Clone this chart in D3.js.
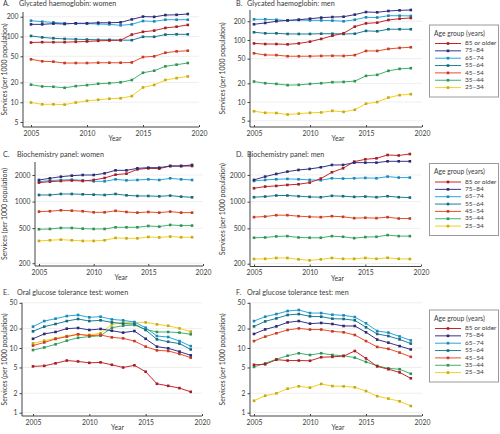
<!DOCTYPE html>
<html><head><meta charset="utf-8">
<script src="https://cdn.jsdelivr.net/npm/d3@7"></script>
<style>
html,body{margin:0;padding:0;background:#fff;}
svg{display:block;font-family:Lato,"Open Sans",sans-serif;}
</style></head>
<body><svg id="c" width="500" height="434"></svg>
<script>
const years = [2005,2006,2007,2008,2009,2010,2011,2012,2013,2014,2015,2016,2017,2018,2019];
const ageGroups = ["85 or older","75–84","65–74","55–64","45–54","35–44","25–34"];
const xTicks = [2005,2010,2015,2020];
const ticksGhb = [5,10,20,50,100,200];
const ticksBio = [200,500,1000,2000];
const ticksOgtt = [1,2,5,10,20,50];

// series in legend order: 85+, 75–84, 65–74, 55–64, 45–54, 35–44, 25–34
const ghbWomen = [
 [81,82,82,82,83,84,86,87,88,107,118,123,135,141,150],
 [153,153,157,155,159,159,162,162,164,182,201,199,212,214,220],
 [174,168,164,159,157,157,155,153,148,153,172,170,180,180,180],
 [102,97,94,92,91,90,89,89,88,88,99,99,107,108,108],
 [45,42,41.4,39.5,39.5,39.5,39.9,39.9,39.9,40.3,48.7,49.9,56.7,59.4,60.8],
 [18.5,17.4,17.2,16.6,17.6,18.2,19.1,19.5,20.1,21.8,28.1,30.2,35.2,37.3,39.5],
 [9.9,9.3,9.3,9.2,9.9,10.5,10.9,11.3,11.5,12.4,16.8,18.3,21.8,23.3,24.7]
];
const ghbMen = [
 [88,86,86,85,88,94,104,117,128,164,185,190,210,220,226],
 [179,188,200,207,212,220,229,234,237,256,282,279,293,300,304],
 [215,215,212,205,210,207,207,205,200,212,232,230,246,246,244],
 [133,128,128,125,125,125,126,126,125,126,140,138,149,149,149],
 [61,57.4,57,54.7,54.7,54.7,55.3,55.6,55.3,57,66.6,66.6,71.8,74.5,76.3],
 [21.4,20.1,19.6,18.7,18.9,19.6,20.1,20.9,21.1,21.7,26.4,27.4,31.8,34.2,35.1],
 [7.1,6.7,6.65,6.3,6.5,6.7,6.8,7.2,6.95,7.5,9.4,10.0,11.8,12.9,13.4]
];
const bioWomen = [
 [1640,1680,1710,1730,1710,1756,1850,2017,2070,2318,2380,2360,2528,2528,2528],
 [1756,1834,1914,1966,2000,2000,2088,2259,2259,2380,2422,2422,2528,2528,2600],
 [1680,1730,1756,1770,1740,1696,1696,1786,1740,1756,1786,1756,1834,1786,1756],
 [1187,1187,1219,1219,1208,1197,1187,1219,1177,1157,1157,1146,1167,1137,1117],
 [769,777,796,788,777,755,755,785,762,749,762,749,769,749,749],
 [485,489,502,502,493,489,489,511,511,511,529,520,543,534,534],
 [358,364,370,364,358,358,364,387,383,383,397,392,401,394,394]
];
const bioMen = [
 [1416,1479,1504,1544,1570,1640,1818,2144,2376,2824,3000,3077,3356,3315,3440],
 [1758,1916,2052,2180,2276,2336,2438,2591,2591,2752,2752,2752,2848,2848,2848],
 [1712,1758,1788,1804,1788,1758,1742,1835,1820,1835,1851,1835,1916,1867,1867],
 [1122,1142,1173,1173,1152,1132,1122,1163,1152,1132,1142,1122,1152,1122,1112],
 [669,680,704,704,686,675,669,686,675,652,658,652,669,646,646],
 [392,395,406,409,395,392,392,409,402,388,399,402,420,409,409],
 [226,227,232,232,224,218,224,232,227,227,232,227,233,227,226]
];
const ogttWomen = [
 [5.2,5.3,5.8,6.4,6.2,5.9,6.0,5.5,5.0,5.4,4.3,2.8,2.6,2.4,2.1],
 [13.9,16.5,17.7,19.9,20.4,19.0,19.7,18.5,17.3,18.3,13.9,10.5,9.9,8.8,7.7],
 [21.4,26.1,28.4,31.2,32.4,29.8,30.5,27.7,26.8,25.2,20.6,15.3,14.8,12.8,10.7],
 [18.1,21.4,23.5,26.1,28.1,26.1,26.8,24.9,23.8,23.5,19.0,13.6,12.5,11.7,9.5],
 [10.9,12.2,13.8,15.0,16.3,15.5,15.9,14.6,14.1,12.8,10.5,9.2,9.0,8.1,7.1],
 [9.3,10.2,11.4,13.0,14.4,15.0,15.5,20.6,22.1,22.7,19.4,17.7,17.7,17.3,16.3],
 [11.8,13.0,14.1,15.3,16.3,15.9,16.9,23.2,24.9,24.9,24.9,23.2,22.1,20.1,17.9]
];
const ogttMen = [
 [5.5,5.6,6.6,6.4,6.4,6.35,7.2,7.3,7.5,9.0,6.9,5.2,4.7,4.2,3.4],
 [16.5,19.4,21.6,24.9,26.1,23.8,24.4,23.5,21.9,21.9,17.5,13.5,12.1,10.7,9.5],
 [26.1,30.5,33.5,37.3,38.7,34.7,34.7,32.7,32.0,30.1,24.1,18.3,17.3,15.1,13.1],
 [21.6,25.8,28.7,32.4,33.5,30.9,30.5,28.4,28.1,26.8,20.9,16.5,15.3,13.6,11.7],
 [12.8,15.0,16.9,19.0,20.1,19.3,19.3,18.1,17.5,15.9,12.8,10.4,9.7,8.5,7.3],
 [5.1,5.8,6.7,7.6,8.3,7.8,8.3,7.8,7.6,7.1,6.1,5.3,4.85,4.7,4.0],
 [1.53,1.83,1.99,2.35,2.56,2.44,2.78,2.58,2.56,2.47,2.16,1.8,1.65,1.5,1.27]
];

const colors = ["#c8262c","#35348a","#27a7de","#1b8199","#ee4b2b","#40b36b","#f4d11c"];
const drawOrder = [6,5,4,3,2,0,1];

const panels = [
 {letter:"A.", title:"Glycated haemoglobin: women", data:ghbWomen, ticks:ticksGhb,
  axisX:23, x0:31, x1:199, yDom:[4.2,236], yRng:[127,12], titleY:6, lx:3, tx:19, ytX:5, legend:null},
 {letter:"B.", title:"Glycated haemoglobin: men", data:ghbMen, ticks:ticksGhb,
  axisX:250, x0:254, x1:422, yDom:[3.96,304], yRng:[127,10], titleY:6, lx:236, tx:247, ytX:223, legend:25},
 {letter:"C.", title:"Biochemistry panel: women", data:bioWomen, ticks:ticksBio,
  axisX:35, x0:39, x1:203, yDom:[186,2808], yRng:[266,162], titleY:156.5, lx:3, tx:17, ytX:5, legend:null},
 {letter:"D.", title:"Biochemistry panel: men", data:bioMen, ticks:ticksBio,
  axisX:250, x0:254, x1:421, yDom:[186,3626], yRng:[266.5,152], titleY:156.5, lx:236, tx:247, ytX:223, legend:163.5},
 {letter:"E.", title:"Oral glucose tolerance test: women", data:ogttWomen, ticks:ticksOgtt,
  axisX:22, x0:33, x1:202, yDom:[0.889,50], yRng:[416,302.8], titleY:295, lx:3, tx:17, ytX:5, legend:null},
 {letter:"F.", title:"Oral glucose tolerance test: men", data:ogttMen, ticks:ticksOgtt,
  axisX:250, x0:254, x1:422, yDom:[0.889,50], yRng:[416,302.8], titleY:295, lx:236, tx:247, ytX:223, legend:310}
];

const svg = d3.select("#c");
const axisCol = "#444", textCol = "#3a3a3a";

panels.forEach(p => {
  const g = svg.append("g");
  const x = d3.scaleLinear().domain([2005,2020]).range([p.x0,p.x1]);
  const y = d3.scaleLog().domain(p.yDom).range(p.yRng);
  const yb = p.yRng[0], yt = p.yRng[1];

  g.append("text").attr("x",p.lx).attr("y",p.titleY).attr("font-size",7.2).attr("fill",textCol).text(p.letter);
  g.append("text").attr("x",p.tx).attr("y",p.titleY).attr("font-size",7.2).attr("fill",textCol).text(p.title);

  g.selectAll(".grid").data(p.ticks).join("line")
    .attr("x1",p.axisX).attr("x2",p.x1)
    .attr("y1",d=>y(d)).attr("y2",d=>y(d))
    .attr("stroke","#ebebeb").attr("stroke-width",0.8);

  const yAxis = d3.axisLeft(y).tickValues(p.ticks).tickFormat(d3.format("d")).tickSize(2.5).tickPadding(2);
  const ya = g.append("g").attr("transform",`translate(${p.axisX},0)`).call(yAxis);
  ya.select(".domain").remove();
  ya.append("line").attr("x1",0).attr("x2",0).attr("y1",yt).attr("y2",yb).attr("stroke",axisCol);
  ya.selectAll(".tick line").attr("stroke",axisCol);
  ya.selectAll(".tick text").attr("font-size",6.8).attr("fill",textCol).attr("font-family","Lato");

  const xAxis = d3.axisBottom(x).tickValues(xTicks).tickFormat(d3.format("d")).tickSize(-2).tickPadding(4);
  const xa = g.append("g").attr("transform",`translate(0,${yb})`).call(xAxis);
  xa.select(".domain").remove();
  xa.append("line").attr("x1",p.axisX).attr("x2",p.x1).attr("y1",0).attr("y2",0).attr("stroke",axisCol);
  xa.selectAll(".tick line").attr("stroke",axisCol);
  xa.selectAll(".tick text").attr("font-size",6.8).attr("fill",textCol).attr("font-family","Lato");

  g.append("text").attr("x",x(2012.5)).attr("y",yb+14).attr("text-anchor","middle")
    .attr("font-size",6.8).attr("fill",textCol).text("Year");

  g.append("text").attr("transform",`translate(${p.ytX},${(yb+yt)/2}) rotate(-90)`)
    .attr("text-anchor","middle").attr("dominant-baseline","middle")
    .attr("font-size",6.9).attr("fill",textCol).text("Services (per 1000 population)");

  const line = d3.line().x((d,i)=>x(years[i])).y(d=>y(d));
  drawOrder.forEach(k => {
    const s = p.data[k];
    g.append("path").datum(s).attr("d",line).attr("fill","none")
      .attr("stroke",colors[k]).attr("stroke-width",1);
    g.selectAll(null).data(s).join("rect")
      .attr("x",(d,i)=>x(years[i])-1.3).attr("y",d=>y(d)-1.3)
      .attr("width",2.6).attr("height",2.6)
      .attr("fill",d3.color(colors[k]).darker(0.6));
  });

  if (p.legend !== null) {
    const top = p.legend;
    const L = svg.append("g");
    L.append("rect").attr("x",429.5).attr("y",top).attr("width",69).attr("height",72)
      .attr("fill","#fff").attr("stroke","#9a9a9a").attr("stroke-width",1);
    L.append("text").attr("x",434).attr("y",top+10.5).attr("font-size",6.7).attr("fill",textCol)
      .text("Age group (years)");
    ageGroups.forEach((a,i) => {
      const yy = top + 18.5 + i*7.35;
      L.append("line").attr("x1",435).attr("x2",461).attr("y1",yy).attr("y2",yy)
        .attr("stroke",colors[i]).attr("stroke-width",1);
      L.append("rect").attr("x",446.7).attr("y",yy-1.3).attr("width",2.6).attr("height",2.6)
        .attr("fill",d3.color(colors[i]).darker(0.6));
      L.append("text").attr("x",465).attr("y",yy).attr("dominant-baseline","middle")
        .attr("font-size",6.5).attr("fill",textCol).text(a);
    });
  }
});
</script></body></html>
